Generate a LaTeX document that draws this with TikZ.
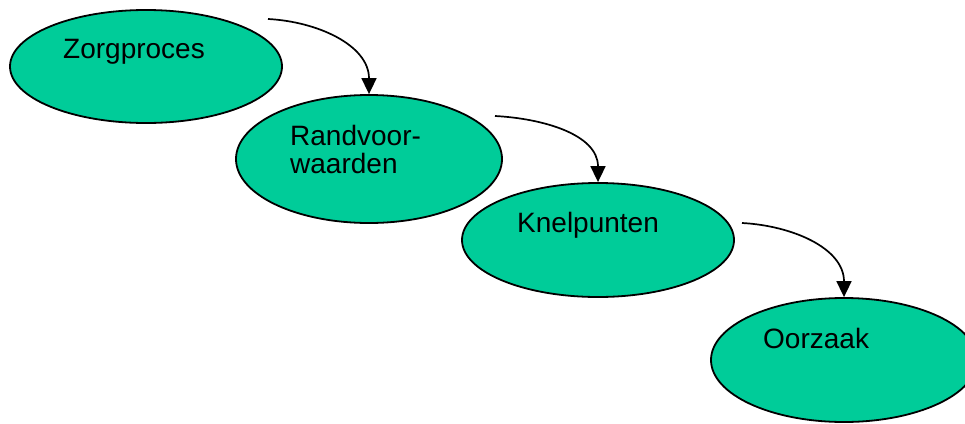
\documentclass[tikz,border=0pt]{standalone}
\usepackage{fontspec}
\setmainfont{Liberation Sans}
\usetikzlibrary{shapes.geometric,arrows.meta}
\definecolor{fillgreen}{RGB}{0,204,153}
\begin{document}
\begin{tikzpicture}[x=1pt,y=-1pt,
  blob/.style={ellipse,draw=black,line width=1.8pt,fill=fillgreen,inner sep=0pt},
  lbl/.style={anchor=base west,inner sep=0pt,font=\fontsize{28}{28}\selectfont,align=left},
  conn/.style={line width=1.7pt,-{Triangle[length=16pt,width=15pt]}}]
\useasboundingbox (0,0) rectangle (965,423);
\clip (0,0) rectangle (965,423);
\node[blob,minimum width=272pt,minimum height=113pt] (e1) at (146,66.5) {};
\node[blob,minimum width=266pt,minimum height=128pt] (e2) at (369,159) {};
\node[blob,minimum width=272pt,minimum height=114pt] (e3) at (598,240) {};
\node[blob,minimum width=266pt,minimum height=124pt] (e4) at (844,360) {};
\node[lbl] (t1) at (63,58) {Zorgproces};
\node[lbl] (t2) at (290,173) {Randvoor-\\waarden};
\node[lbl] (t3) at (517,232) {Knelpunten};
\node[lbl] (t4) at (763,348) {Oorzaak};
\coordinate (s1) at (268,19);
\coordinate (s2) at (495,116);
\coordinate (s3) at (742,223);
\draw[conn] (s1) to[out=-3,in=90] (e2.north);
\draw[conn] (s2) to[out=-3,in=90] (e3.north);
\draw[conn] (s3) to[out=-3,in=90] (e4.north);
\end{tikzpicture}
\end{document}
